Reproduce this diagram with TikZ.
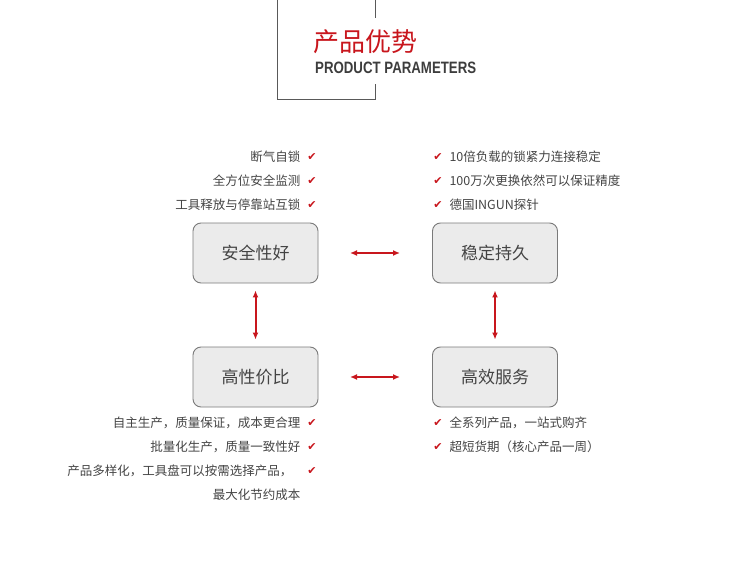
\documentclass[tikz,border=0pt]{standalone}
\usepackage{fontspec}
\usepackage{graphicx}
\setmainfont{Liberation Sans}
\newfontfamily\cjk{Noto Sans CJK SC}
\newfontfamily\dv{DejaVu Sans}
\usetikzlibrary{arrows.meta}
\definecolor{myred}{HTML}{C8161D}
\definecolor{txt}{HTML}{444444}
\definecolor{boxfill}{HTML}{EBEBEB}
\definecolor{boxline}{HTML}{7A7A7A}
\begin{document}
\begin{tikzpicture}[x=1pt,y=-1pt,
  boxnode/.style={draw=boxline,fill=boxfill,rounded corners=8pt,line width=0.9pt,minimum width=125pt,minimum height=60pt,font=\cjk\fontsize{17}{17}\selectfont,text=txt},
  lt/.style={anchor=east,font=\cjk\fontsize{12.5}{13}\selectfont,text=txt},
  rt/.style={anchor=west,font=\cjk\fontsize{12.5}{13}\selectfont,text=txt},
  ck/.style={font=\dv\fontsize{11}{11}\selectfont,text=myred},
  dbl/.style={{Latex[length=7pt,width=6pt]}-{Latex[length=7pt,width=6pt]},myred,line width=2pt}]
\useasboundingbox (0,0) rectangle (750,583);
% frame
\draw[gray!70!black,line width=0.8pt] (277,0) -- (277,99) -- (375,99) -- (375,84);
\draw[gray!70!black,line width=0.8pt] (375,0) -- (375,18);
\node[anchor=west,inner sep=0,font=\cjk\fontsize{26}{26}\selectfont,text=myred] (t1) at (313,42) {产品优势};
\node[anchor=west,inner sep=0,text=txt!90!black] (t2) at (315,68) {\resizebox{161pt}{11.5pt}{\bfseries PRODUCT PARAMETERS}};
% boxes
\node[boxnode] (b1) at (255.5,253) {安全性好};
\node[boxnode] (b2) at (495,253) {稳定持久};
\node[boxnode] (b3) at (255.5,377) {高性价比};
\node[boxnode] (b4) at (495,377) {高效服务};
\coordinate (h1a) at (350,253); \coordinate (h1b) at (400,253);
\coordinate (h2a) at (350,377); \coordinate (h2b) at (400,377);
\draw[dbl] (h1a) -- (h1b);
\draw[dbl] (h2a) -- (h2b);
\draw[dbl] ([yshift=-7pt]b1.south) -- ([yshift=7pt]b3.north);
\draw[dbl] ([yshift=-7pt]b2.south) -- ([yshift=7pt]b4.north);
% left top
\node[lt] (l1) at (304,157) {断气自锁}; \node[ck] (c1) at (312,157) {✔};
\node[lt] (l2) at (304,181) {全方位安全监测}; \node[ck] (c2) at (312,181) {✔};
\node[lt] (l3) at (304,205) {工具释放与停靠站互锁}; \node[ck] (c3) at (312,205) {✔};
% right top
\node[ck] (c4) at (438,157) {✔}; \node[rt] (r1) at (446,157) {10倍负载的锁紧力连接稳定};
\node[ck] (c5) at (438,181) {✔}; \node[rt] (r2) at (446,181) {100万次更换依然可以保证精度};
\node[ck] (c6) at (438,205) {✔}; \node[rt] (r3) at (446,205) {德国INGUN探针};
% left bottom
\node[lt] (l4) at (304,423) {自主生产，质量保证，成本更合理}; \node[ck] (c7) at (312,423) {✔};
\node[lt] (l5) at (304,447) {批量化生产，质量一致性好}; \node[ck] (c8) at (312,447) {✔};
\node[lt] (l6) at (296,471) {产品多样化，工具盘可以按需选择产品，}; \node[ck] (c9) at (312,471) {✔};
\node[lt] (l7) at (304,495) {最大化节约成本};
% right bottom
\node[ck] (c10) at (438,423) {✔}; \node[rt] (r4) at (446,423) {全系列产品，一站式购齐};
\node[ck] (c11) at (438,447) {✔}; \node[rt] (r5) at (446,447) {超短货期（核心产品一周）};
\end{tikzpicture}
\end{document}
